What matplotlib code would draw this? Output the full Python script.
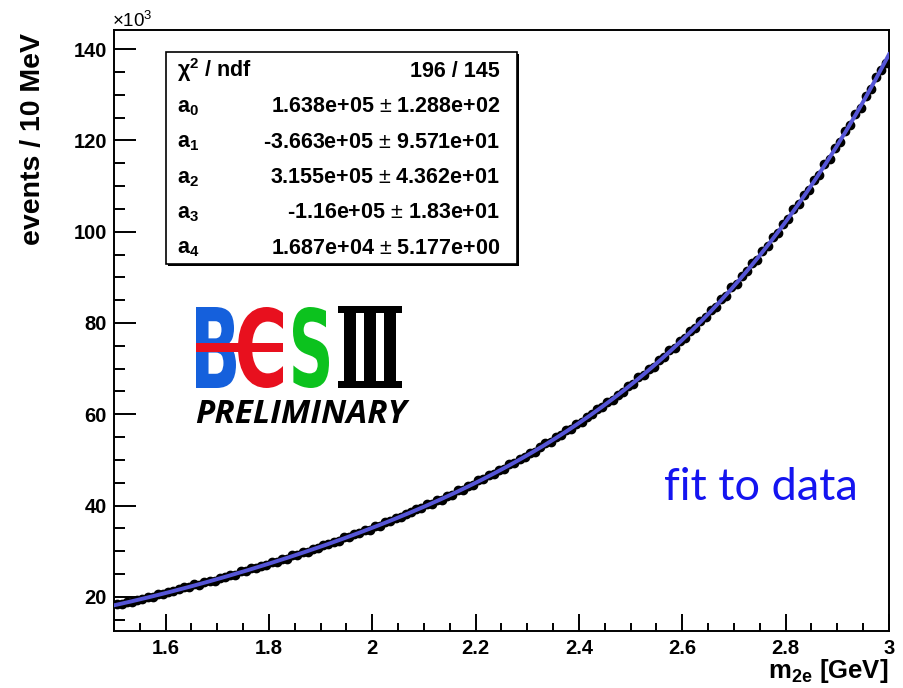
import numpy as np
import matplotlib
matplotlib.use('Agg')
import matplotlib.pyplot as plt
from matplotlib.patches import Rectangle, PathPatch
from matplotlib.textpath import TextPath
from matplotlib.font_manager import FontProperties
from matplotlib.transforms import Affine2D
from matplotlib.ticker import MultipleLocator

plt.rcParams['font.family'] = ['Liberation Sans', 'DejaVu Sans']
plt.rcParams['mathtext.fontset'] = 'custom'
plt.rcParams['mathtext.rm'] = 'Liberation Sans'
plt.rcParams['mathtext.bf'] = 'Liberation Sans:bold'
plt.rcParams['mathtext.it'] = 'Liberation Sans:italic'

# m_2e spectrum, 10 MeV bins from 1.5 to 3.0 GeV, counts in units of 10^3
m_lo, m_hi = 1.5, 3.0
events = [
    18.5, 18.4, 18.9, 18.8, 19.4, 19.5, 20.0, 20.0, 20.5, 20.5,
    21.1, 21.2, 21.8, 22.2, 22.1, 22.7, 22.6, 23.2, 23.4, 23.5,
    24.2, 24.3, 24.8, 24.8, 25.6, 25.6, 26.3, 26.2, 26.8, 27.0,
    27.7, 27.7, 28.3, 28.3, 29.1, 29.2, 29.9, 29.8, 30.5, 30.6,
    31.4, 31.5, 32.1, 32.2, 33.0, 33.0, 33.7, 34.0, 34.7, 34.7,
    35.4, 35.6, 36.4, 36.6, 37.3, 37.4, 38.2, 38.5, 39.3, 39.4,
    40.3, 40.4, 41.2, 41.3, 42.1, 42.3, 43.3, 43.5, 44.3, 44.5,
    45.5, 45.8, 46.7, 46.8, 47.7, 48.0, 49.1, 49.3, 50.3, 50.6,
    51.6, 51.8, 52.8, 53.6, 53.9, 55.0, 55.4, 56.5, 56.8, 57.8,
    58.3, 59.5, 60.0, 61.2, 61.5, 62.7, 63.2, 64.3, 64.9, 66.2,
    66.7, 68.1, 68.7, 69.9, 70.4, 71.9, 72.5, 74.0, 74.6, 76.0,
    76.7, 78.2, 78.8, 80.5, 81.3, 82.9, 83.5, 85.2, 86.0, 87.8,
    88.5, 90.3, 91.3, 93.1, 93.8, 95.8, 96.8, 98.8, 99.7, 101.6,
    102.7, 104.9, 106.0, 108.1, 109.1, 111.4, 112.5, 114.8, 116.0, 118.4,
    119.6, 122.1, 123.3, 125.9, 127.2, 129.8, 131.2, 134.0, 135.4, 136.9,
]

# pol4 fit result (events per 10 MeV, x in GeV)
fit_pars = [1.638e5, -3.663e5, 3.155e5, -1.16e5, 1.687e4]
fit_errs = [1.288e2, 9.571e1, 4.362e1, 1.83e1, 5.177]
chi2 = 196

events = np.array(events)
edges = np.linspace(m_lo, m_hi, len(events) + 1)
centers = 0.5 * (edges[:-1] + edges[1:])
errors = np.sqrt(events * 1e3) / 1e3
ndf = len(events) - len(fit_pars)


def root_fmt(v):
    mant, expo = ('%.3e' % v).split('e')
    mant = mant.rstrip('0').rstrip('.')
    return mant + 'e' + expo


fig = plt.figure(figsize=(9.04, 6.88), dpi=100)
W, H = 904, 688
ax = fig.add_axes([114 / W, 1 - 631 / H, (889 - 114) / W, (631 - 30) / H])

ax.errorbar(centers, events, yerr=errors, fmt='o', color='black',
            markersize=6, elinewidth=1, capsize=0, zorder=2)
xf = np.linspace(m_lo, m_hi, 400)
yf = np.polynomial.polynomial.polyval(xf, fit_pars) / 1e3
ax.plot(xf, yf, color='#5555D6', lw=2.8, zorder=3)

ax.set_xlim(m_lo, m_hi)
ax.set_ylim(12.5, 144.2)
ax.xaxis.set_major_locator(MultipleLocator(0.2))
ax.xaxis.set_minor_locator(MultipleLocator(0.05))
ax.yaxis.set_major_locator(MultipleLocator(20))
ax.yaxis.set_minor_locator(MultipleLocator(5))
ax.set_xticks(np.arange(1.6, 3.01, 0.2))
ax.set_xticklabels(['1.6', '1.8', '2', '2.2', '2.4', '2.6', '2.8', '3'])
ax.set_yticks(np.arange(20, 141, 20))
ax.tick_params(which='both', direction='in', top=False, right=False, width=1.4,
               labelsize=14.5)
ax.tick_params(axis='y', which='major', length=16, pad=5)
ax.tick_params(axis='y', which='minor', length=8)
ax.tick_params(axis='x', which='major', length=12, pad=6)
ax.tick_params(axis='x', which='minor', length=6)
for lab in ax.get_xticklabels() + ax.get_yticklabels():
    lab.set_fontweight('bold')
for sp in ax.spines.values():
    sp.set_linewidth(1.4)

# axis titles, ROOT style
fig.text(46 / W, 1 - 33 / H, 'events / 10 MeV', rotation=90, ha='right', va='top',
         fontsize=20.5, fontweight='bold')
fig.text(888 / W, 1 - 678 / H, r'$\mathbf{m_{2e}}$ [GeV]', ha='right', va='baseline',
         fontsize=18.5, fontweight='bold')
fig.text(112 / W, 1 - 27 / H, r'$\times10^{3}$', ha='left', va='baseline', fontsize=13.5)

# overlay in pixel coordinates for the stat box and logo
ov = fig.add_axes([0, 0, 1, 1], facecolor='none')
ov.set_xlim(0, W)
ov.set_ylim(H, 0)
ov.axis('off')

bx, by, bw, bh = 166, 52, 351, 212
ov.add_patch(Rectangle((bx + 2, by + 2), bw, bh, fc='black', ec='none'))
ov.add_patch(Rectangle((bx, by), bw, bh, fc='white', ec='black', lw=1.2))
rows = [('χ$^{\\mathbf{2}}$ / ndf', '%d / %d' % (chi2, ndf))]
for i, (p, e) in enumerate(zip(fit_pars, fit_errs)):
    rows.append((r'$\mathbf{a_{%d}}$' % i, '%s $\\pm$ %s' % (root_fmt(p), root_fmt(e))))
rh = bh / len(rows)
for i, (name, val) in enumerate(rows):
    yb = by + rh * (i + 0.5) + 7.5
    ov.text(177, yb, name, ha='left', va='baseline', fontsize=15.5, fontweight='bold')
    ov.text(500, yb, val, ha='right', va='baseline', fontsize=15.5, fontweight='bold')


def glyph(ch, box, color):
    x0, y0, x1, y1 = box
    tp = TextPath((0, 0), ch, size=100,
                  prop=FontProperties(family='DejaVu Sans', weight='bold'))
    ext = tp.get_extents()
    tr = (Affine2D().translate(-ext.x0, -ext.y0)
          .scale((x1 - x0) / ext.width, -(y1 - y0) / ext.height)
          .translate(x0, y1))
    ov.add_patch(PathPatch(tr.transform_path(tp), fc=color, ec='none'))


# BESIII logo
glyph('B', (196, 307, 236, 388), '#1560DC')
glyph('C', (238, 307, 283, 388), '#E8101E')
ov.add_patch(Rectangle((196, 343), 87, 9, fc='#E8101E', ec='none'))
glyph('S', (293, 307, 329, 388), '#0CC21E')
ov.add_patch(Rectangle((338, 306), 64, 7, fc='black', ec='none'))
ov.add_patch(Rectangle((338, 381), 64, 7, fc='black', ec='none'))
for sx in (344, 364, 384):
    ov.add_patch(Rectangle((sx, 312), 12, 70, fc='black', ec='none'))
ov.text(195, 423, 'PRELIMINARY', ha='left', va='baseline', fontsize=24,
        fontweight='bold', style='italic', family=['Open Sans', 'DejaVu Sans'])

ov.text(664, 500, 'fit to data', ha='left', va='baseline', fontsize=32.5,
        color='#1414F0', family='Lato')

fig.savefig('out.png', dpi=100, facecolor='white')
